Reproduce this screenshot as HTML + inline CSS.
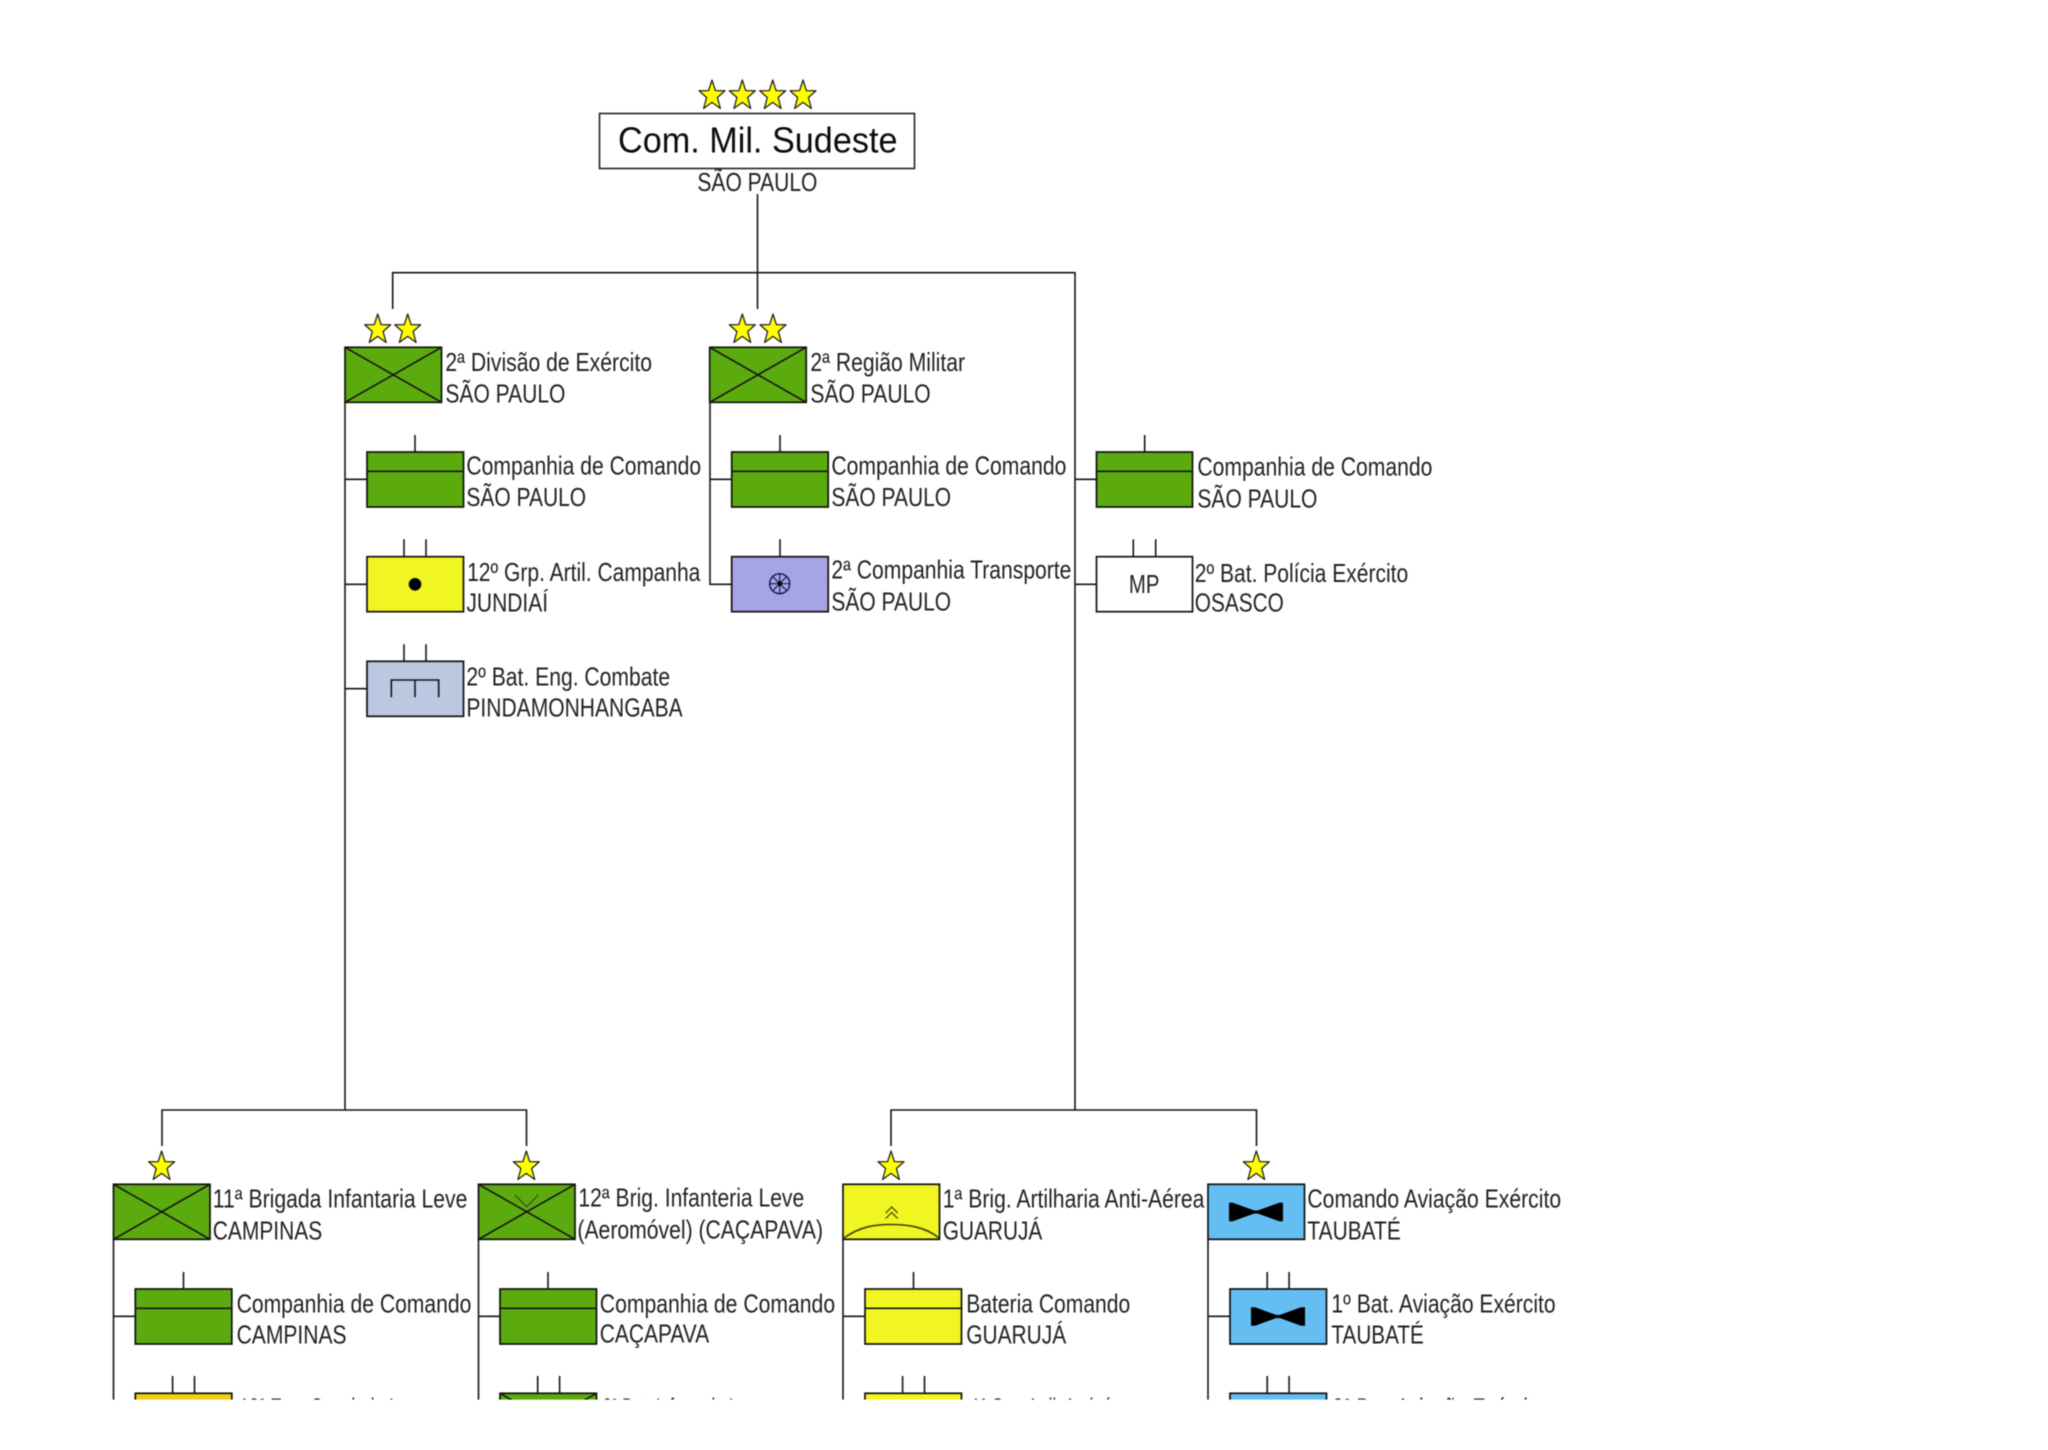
<!DOCTYPE html>
<html lang="pt">
<head>
<meta charset="utf-8">
<title>Com. Mil. Sudeste</title>
<style>
html,body{margin:0;padding:0;background:#fff;}
svg{display:block;filter:blur(0.5px);}
text{font-family:"Liberation Sans",Arial,sans-serif;font-size:25.7px;fill:#222;transform:translateX(-0.6px);}
.l{stroke:#151515;stroke-width:1.6;fill:none;}
.b{stroke:#111;stroke-width:1.7;}
.g{fill:#5cab0e;}
.y{fill:#f1f521;}
.o{fill:#f4cf12;}
.p{fill:#a5a5e6;}
.e{fill:#bcc7e1;}
.a{fill:#65bef2;}
.w{fill:#fff;}
</style>
</head>
<body>
<svg width="2048" height="1450" viewBox="0 0 2048 1450" xmlns="http://www.w3.org/2000/svg">
<defs>
<clipPath id="c"><rect x="0" y="0" width="2048" height="1399.6"/></clipPath>
<polygon id="s" points="0,0 3.4,10.6 13,10.8 5.4,17.5 8.4,28.5 0,22.4 -8.4,28.5 -5.4,17.5 -13,10.8 -3.4,10.6" fill="#ffff00" stroke="#222" stroke-width="1.3" stroke-linejoin="round"/>
<polygon id="bt" points="-27,-9.2 -23,-9.2 -2,-1.6 2,-1.6 23,-9.2 27,-9.2 27,9.2 23,9.2 2,1.6 -2,1.6 -23,9.2 -27,9.2" fill="#000"/>
</defs>
<rect width="2048" height="1450" fill="#fff"/>
<g clip-path="url(#c)">

<!-- Connectors -->
<path class="l" d="M757.5 194V309M392.7 309V272.7H1075V1110M345 402V1110M162 1146V1110H526.5V1146M891 1146V1110H1256.5V1146"/>
<path class="l" d="M345 479.3H367M345 584.3H367M345 688.7H367"/>
<path class="l" d="M710 402V584.3H732M710 479.3H732"/>
<path class="l" d="M1075 479.3H1097M1075 584.3H1097"/>
<path class="l" d="M113.5 1239V1400M113.5 1316.3H135.5M478.5 1239V1400M478.5 1316.3H500M843 1239V1400M843 1316.3H865M1208 1239V1400M1208 1316.3H1230"/>

<!-- Top box -->
<rect x="599.5" y="113.5" width="315" height="55" fill="#fff" stroke="#222" stroke-width="1.6"/>
<text x="618.6" y="152.7" style="font-size:36px;fill:#0c0c0c" textLength="279.5" lengthAdjust="spacingAndGlyphs">Com. Mil. Sudeste</text>
<text x="698" y="191" textLength="120" lengthAdjust="spacingAndGlyphs">SÃO PAULO</text>
<use href="#s" x="712" y="80"/><use href="#s" x="742.3" y="80"/><use href="#s" x="772.7" y="80"/><use href="#s" x="803" y="80"/>

<!-- 2a Divisao -->
<use href="#s" x="377.7" y="314"/><use href="#s" x="407.7" y="314"/>
<rect class="b g" x="345" y="347.3" width="96.5" height="55"/>
<path class="l" d="M345 347.3L441.5 402.3M441.5 347.3L345 402.3"/>
<text x="446" y="371" textLength="206.6" lengthAdjust="spacingAndGlyphs">2ª Divisão de Exército</text>
<text x="446" y="402.7" textLength="120" lengthAdjust="spacingAndGlyphs">SÃO PAULO</text>

<rect class="b g" x="367" y="452" width="96.5" height="55"/>
<path class="l" d="M367 471.3H463.5M415 435V452"/>
<text x="467" y="474.3" textLength="234.7" lengthAdjust="spacingAndGlyphs">Companhia de Comando</text>
<text x="467" y="506" textLength="119.7" lengthAdjust="spacingAndGlyphs">SÃO PAULO</text>

<rect class="b y" x="367" y="556.7" width="96.5" height="55"/>
<path class="l" d="M404 539.3V556.7M426 539.3V556.7"/>
<circle cx="415" cy="584.3" r="6.3" fill="#000"/>
<text x="467.7" y="581" textLength="233.3" lengthAdjust="spacingAndGlyphs">12º Grp. Artil. Campanha</text>
<text x="467" y="611.7" textLength="81.7" lengthAdjust="spacingAndGlyphs">JUNDIAÍ</text>

<rect class="b e" x="367" y="661.3" width="96.5" height="55"/>
<path class="l" d="M404 644.3V661.3M426 644.3V661.3M391.3 697.3V680H438.7V697.3M415 680V697.3"/>
<text x="467" y="685.3" textLength="203.7" lengthAdjust="spacingAndGlyphs">2º Bat. Eng. Combate</text>
<text x="467" y="716.7" textLength="216.3" lengthAdjust="spacingAndGlyphs">PINDAMONHANGABA</text>

<!-- 2a Regiao -->
<use href="#s" x="742.3" y="314"/><use href="#s" x="773" y="314"/>
<rect class="b g" x="709.7" y="347.3" width="96.5" height="55"/>
<path class="l" d="M709.7 347.3L806.2 402.3M806.2 347.3L709.7 402.3"/>
<text x="811" y="371" textLength="154.6" lengthAdjust="spacingAndGlyphs">2ª Região Militar</text>
<text x="811" y="402.7" textLength="120.3" lengthAdjust="spacingAndGlyphs">SÃO PAULO</text>

<rect class="b g" x="731.7" y="452" width="96.5" height="55"/>
<path class="l" d="M731.7 471.3H828.2M780 435V452"/>
<text x="832" y="474.3" textLength="235" lengthAdjust="spacingAndGlyphs">Companhia de Comando</text>
<text x="832" y="506" textLength="119.7" lengthAdjust="spacingAndGlyphs">SÃO PAULO</text>

<rect class="b p" x="731.7" y="556.7" width="96.5" height="55"/>
<path class="l" d="M780 539.3V556.7"/>
<circle cx="779.7" cy="583.7" r="10" fill="none" stroke="#1a1a50" stroke-width="1.5"/>
<path d="M769.7 583.7H789.7M779.7 573.7V593.7M772.6 576.6L786.8 590.8M786.8 576.6L772.6 590.8" stroke="#1a1a50" stroke-width="1.2"/>
<circle cx="779.7" cy="583.7" r="2.4" fill="#000"/>
<text x="832" y="578.7" textLength="240" lengthAdjust="spacingAndGlyphs">2ª Companhia Transporte</text>
<text x="832" y="610.7" textLength="119.7" lengthAdjust="spacingAndGlyphs">SÃO PAULO</text>

<!-- Right column -->
<rect class="b g" x="1096.5" y="452" width="96" height="55"/>
<path class="l" d="M1096.5 471.3H1192.5M1144.7 435V452"/>
<text x="1198" y="475.7" textLength="235" lengthAdjust="spacingAndGlyphs">Companhia de Comando</text>
<text x="1198" y="507.3" textLength="120" lengthAdjust="spacingAndGlyphs">SÃO PAULO</text>

<rect class="b w" x="1096.5" y="556.7" width="96" height="55"/>
<path class="l" d="M1133.3 539.3V556.7M1155.7 539.3V556.7"/>
<text x="1129.5" y="593" textLength="30.5" lengthAdjust="spacingAndGlyphs">MP</text>
<text x="1195.4" y="582" textLength="213.4" lengthAdjust="spacingAndGlyphs">2º Bat. Polícia Exército</text>
<text x="1195.4" y="611.7" textLength="89" lengthAdjust="spacingAndGlyphs">OSASCO</text>

<!-- 11a Brigada -->
<use href="#s" x="161.6" y="1151"/>
<rect class="b g" x="113.5" y="1184.3" width="96.5" height="55"/>
<path class="l" d="M113.5 1184.3L210 1239.3M210 1184.3L113.5 1239.3"/>
<text x="213.4" y="1207.7" textLength="254.6" lengthAdjust="spacingAndGlyphs">11ª Brigada Infantaria Leve</text>
<text x="213.4" y="1239.7" textLength="109.4" lengthAdjust="spacingAndGlyphs">CAMPINAS</text>
<rect class="b g" x="135.3" y="1289" width="96.5" height="55"/>
<path class="l" d="M135.3 1308.3H231.8M183.5 1272V1289"/>
<text x="237.2" y="1312.7" textLength="234.8" lengthAdjust="spacingAndGlyphs">Companhia de Comando</text>
<text x="237.2" y="1343.6" textLength="110" lengthAdjust="spacingAndGlyphs">CAMPINAS</text>
<rect class="b o" x="135.3" y="1393.3" width="96.5" height="55"/>
<path class="l" d="M172.6 1376V1393.3M194.5 1376V1393.3"/>
<text x="240" y="1416.4" textLength="188" lengthAdjust="spacingAndGlyphs">12º Esq. Cavalaria Leve</text>

<!-- 12a Brig -->
<use href="#s" x="526.3" y="1151"/>
<rect class="b g" x="478.5" y="1184.3" width="96.5" height="55"/>
<path class="l" d="M478.5 1184.3L575 1239.3M575 1184.3L478.5 1239.3"/>
<path d="M515 1195L526.7 1206.7L538.3 1195" fill="none" stroke="#2a4a10" stroke-width="1.1"/>
<text x="579" y="1206.7" textLength="225.8" lengthAdjust="spacingAndGlyphs">12ª Brig. Infanteria Leve</text>
<text x="578" y="1238.3" textLength="245.7" lengthAdjust="spacingAndGlyphs">(Aeromóvel) (CAÇAPAVA)</text>
<rect class="b g" x="500" y="1289" width="96.5" height="55"/>
<path class="l" d="M500 1308.3H596.5M548 1272V1289"/>
<text x="600.4" y="1312.7" textLength="235.3" lengthAdjust="spacingAndGlyphs">Companhia de Comando</text>
<text x="600.4" y="1342.7" textLength="109.4" lengthAdjust="spacingAndGlyphs">CAÇAPAVA</text>
<rect class="b g" x="500" y="1393.3" width="96.5" height="55"/>
<path class="l" d="M500 1393.3L596.5 1448.3M596.5 1393.3L500 1448.3M537.7 1376V1393.3M559.6 1376V1393.3"/>
<text x="603" y="1416.4" textLength="162" lengthAdjust="spacingAndGlyphs">6º Bat. Infantaria Leve</text>

<!-- 1a Brig AA -->
<use href="#s" x="891" y="1151"/>
<rect class="b y" x="843" y="1184.3" width="96.5" height="55"/>
<path d="M844 1238C860 1226.5 875 1224.5 891 1224.5S925 1226.5 939 1238" fill="none" stroke="#3c3c10" stroke-width="1.6"/>
<path d="M885.7 1213L891.7 1207L897.7 1213M885.7 1218.5L891.7 1212.5L897.7 1218.5" fill="none" stroke="#3c3c10" stroke-width="1.2"/>
<text x="943.4" y="1207.7" textLength="261.6" lengthAdjust="spacingAndGlyphs">1ª Brig. Artilharia Anti-Aérea</text>
<text x="943.4" y="1239.7" textLength="99.5" lengthAdjust="spacingAndGlyphs">GUARUJÁ</text>
<rect class="b y" x="865" y="1289" width="96.5" height="55"/>
<path class="l" d="M865 1308.3H961.5M913.5 1272V1289"/>
<text x="966.8" y="1312.7" textLength="164" lengthAdjust="spacingAndGlyphs">Bateria Comando</text>
<text x="966.8" y="1343.6" textLength="100" lengthAdjust="spacingAndGlyphs">GUARUJÁ</text>
<rect class="b y" x="865" y="1393.3" width="96.5" height="55"/>
<path class="l" d="M902.6 1376V1393.3M924.5 1376V1393.3"/>
<text x="971.7" y="1416.4" textLength="165" lengthAdjust="spacingAndGlyphs">1º Grp. Artil. Antiaérea</text>

<!-- Comando Aviacao -->
<use href="#s" x="1256.3" y="1151"/>
<rect class="b a" x="1208" y="1184.3" width="96.5" height="55"/>
<use href="#bt" x="1256" y="1212"/>
<text x="1308" y="1207.7" textLength="253.7" lengthAdjust="spacingAndGlyphs">Comando Aviação Exército</text>
<text x="1308" y="1239.7" textLength="93.4" lengthAdjust="spacingAndGlyphs">TAUBATÉ</text>
<rect class="b a" x="1230" y="1289" width="96.5" height="55"/>
<path class="l" d="M1267.2 1272V1289M1289.1 1272V1289"/>
<use href="#bt" x="1278" y="1316.5"/>
<text x="1332" y="1312.7" textLength="224.2" lengthAdjust="spacingAndGlyphs">1º Bat. Aviação Exército</text>
<text x="1332" y="1343.6" textLength="92.4" lengthAdjust="spacingAndGlyphs">TAUBATÉ</text>
<rect class="b a" x="1230" y="1393.3" width="96.5" height="55"/>
<path class="l" d="M1267.2 1376V1393.3M1289.1 1376V1393.3"/>
<text x="1333" y="1416.4" textLength="212" lengthAdjust="spacingAndGlyphs">2º Bat. Aviação Exército</text>

</g>
</svg>
</body>
</html>
